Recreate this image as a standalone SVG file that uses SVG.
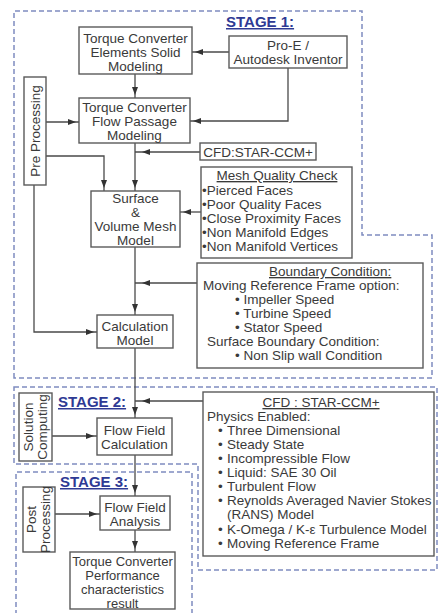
<svg xmlns="http://www.w3.org/2000/svg" width="439" height="613" viewBox="0 0 439 613">
<style>
text{font-family:"Liberation Sans",Arial,sans-serif;font-size:13.5px;fill:#3a3a3a}
.c{text-anchor:middle}
.s{font-size:13px}
.box{fill:#fff;stroke:#5a5a5a;stroke-width:1.4}
.stage{fill:none;stroke:#7f8cc0;stroke-width:1.5;stroke-dasharray:5,3}
.lbl{font-weight:bold;font-size:15px;fill:#2e3a94;text-decoration:underline}
.u{text-decoration:underline}
.ln{fill:none;stroke:#4a4a4a;stroke-width:1.3}
</style>
<defs>
<marker id="a" markerUnits="userSpaceOnUse" markerWidth="14" markerHeight="8" refX="11" refY="3" orient="auto">
<path d="M0,0 L8,3 L0,6 z" fill="#333"/>
</marker>
<marker id="aj" markerUnits="userSpaceOnUse" markerWidth="18" markerHeight="8" refX="15" refY="3" orient="auto">
<path d="M0,0 L8,3 L0,6 z" fill="#333"/>
</marker>
</defs>
<rect width="439" height="613" fill="#fff"/>

<g id="stages">
<path class="stage" d="M14,378 L14,11 L362,11 L362,235 L432,235 L432,378 Z"/>
<path class="stage" d="M14,387 L437,387 L437,570 L198,570 L198,464 L14,464 Z"/>
<path class="stage" d="M16,615 L16,472 L192,472 L192,615"/>
<text class="lbl" x="226" y="27">STAGE 1:</text>
<text class="lbl" x="58" y="407">STAGE 2:</text>
<text class="lbl" x="60" y="487">STAGE 3:</text>
</g>

<g id="connectors">
<path class="ln" d="M229,52 L192,52" marker-end="url(#a)"/>
<path class="ln" d="M135,74 L135,98" marker-end="url(#a)"/>
<path class="ln" d="M288,68 L288,121 L190,121" marker-end="url(#a)"/>
<path class="ln" d="M46,122 L79,122" marker-end="url(#a)"/>
<path class="ln" d="M46,156 L104,156 L104,191" marker-end="url(#a)"/>
<path class="ln" d="M135,143 L135,191" marker-end="url(#a)"/>
<path class="ln" d="M200,152 L135,152" marker-end="url(#aj)"/>
<path class="ln" d="M201,212 L180,212" marker-end="url(#a)"/>
<path class="ln" d="M135,247 L135,315" marker-end="url(#a)"/>
<path class="ln" d="M197,283 L135,283" marker-end="url(#aj)"/>
<path class="ln" d="M34,185 L34,332 L97,332" marker-end="url(#a)"/>
<path class="ln" d="M135,348 L135,418" marker-end="url(#a)"/>
<path class="ln" d="M203,401 L135,401" marker-end="url(#aj)"/>
<path class="ln" d="M52,436 L97,436" marker-end="url(#a)"/>
<path class="ln" d="M135,455 L135,496" marker-end="url(#a)"/>
<path class="ln" d="M55,514 L100,514" marker-end="url(#a)"/>
<path class="ln" d="M135,530 L135,552" marker-end="url(#a)"/>
</g>

<g id="solid-modeling">
<rect class="box" x="79" y="27" width="113" height="47"/>
<text class="c" x="135.5" y="43">Torque Converter</text>
<text class="c" x="135.5" y="57">Elements Solid</text>
<text class="c" x="135.5" y="71">Modeling</text>
</g>

<g id="pro-e">
<rect class="box" x="229" y="36" width="118" height="32"/>
<text class="c" x="288" y="50">Pro-E /</text>
<text class="c" x="288" y="64">Autodesk Inventor</text>
</g>

<g id="flow-passage">
<rect class="box" x="79" y="98" width="111" height="45"/>
<text class="c" x="134.5" y="112">Torque Converter</text>
<text class="c" x="134.5" y="126">Flow Passage</text>
<text class="c" x="134.5" y="140">Modeling</text>
</g>

<g id="pre-processing">
<rect class="box" x="24" y="77" width="22" height="108"/>
<text class="c" transform="translate(40,131) rotate(-90)" x="0" y="0">Pre Processing</text>
</g>

<g id="cfd-small">
<rect class="box" x="200" y="143" width="116" height="17"/>
<text class="c" x="258" y="156.5">CFD:STAR-CCM+</text>
</g>

<g id="mesh-model">
<rect class="box" x="91" y="191" width="89" height="56"/>
<text class="c" x="135.5" y="203">Surface</text>
<text class="c" x="135.5" y="217">&amp;</text>
<text class="c" x="135.5" y="231">Volume Mesh</text>
<text class="c" x="135.5" y="245">Model</text>
</g>

<g id="mesh-quality">
<rect class="box" x="201" y="167" width="151" height="91"/>
<text class="c u" x="277" y="180">Mesh Quality Check</text>
<text x="202" y="195">•Pierced Faces</text>
<text x="202" y="209">•Poor Quality Faces</text>
<text x="202" y="223">•Close Proximity Faces</text>
<text x="202" y="237">•Non Manifold Edges</text>
<text x="202" y="251">•Non Manifold Vertices</text>
</g>

<g id="boundary">
<rect class="box" x="197" y="263" width="226" height="105"/>
<text class="u" x="269" y="276">Boundary Condition:</text>
<text x="203" y="290">Moving Reference Frame option:</text>
<text x="235" y="304">• Impeller Speed</text>
<text x="235" y="318">• Turbine Speed</text>
<text x="235" y="332">• Stator Speed</text>
<text x="207" y="346">Surface Boundary Condition:</text>
<text x="235" y="360">• Non Slip wall Condition</text>
</g>

<g id="calc-model">
<rect class="box" x="97" y="315" width="76" height="33"/>
<text class="c" x="135" y="331">Calculation</text>
<text class="c" x="135" y="344.5">Model</text>
</g>

<g id="solution-computing">
<rect class="box" x="19" y="393" width="33" height="68"/>
<text class="c" transform="translate(33,427) rotate(-90)" x="0" y="0">Solution</text>
<text class="c" transform="translate(47,427) rotate(-90)" x="0" y="0">Computing</text>
</g>

<g id="flow-field-calc">
<rect class="box" x="97" y="418" width="75" height="37"/>
<text class="c" x="134.5" y="435">Flow Field</text>
<text class="c" x="134.5" y="449">Calculation</text>
</g>

<g id="cfd-physics">
<rect class="box" x="203" y="392" width="231" height="164"/>
<text class="c u" x="321" y="407">CFD : STAR-CCM+</text>
<text x="207" y="421">Physics Enabled:</text>
<text x="218" y="435">•</text><text x="227" y="435">Three Dimensional</text>
<text x="218" y="449">•</text><text x="227" y="449">Steady State</text>
<text x="218" y="463">•</text><text x="227" y="463">Incompressible Flow</text>
<text x="218" y="477">•</text><text x="227" y="477">Liquid: SAE 30 Oil</text>
<text x="218" y="491">•</text><text x="227" y="491">Turbulent Flow</text>
<text x="218" y="505">•</text><text x="227" y="505">Reynolds Averaged Navier Stokes</text>
<text x="227" y="519">(RANS) Model</text>
<text x="218" y="534">•</text><text x="227" y="534">K-Omega / K-ε Turbulence Model</text>
<text x="218" y="548">•</text><text x="227" y="548">Moving Reference Frame</text>
</g>

<g id="post-processing">
<rect class="box" x="23" y="487" width="32" height="65"/>
<text class="c" transform="translate(36,519.5) rotate(-90)" x="0" y="0">Post</text>
<text class="c" transform="translate(50,519.5) rotate(-90)" x="0" y="0">Processing</text>
</g>

<g id="flow-field-analysis">
<rect class="box" x="100" y="496" width="70" height="34"/>
<text class="c" x="135" y="512">Flow Field</text>
<text class="c" x="135" y="526">Analysis</text>
</g>

<g id="performance">
<rect class="box" x="70" y="552" width="105" height="57"/>
<text class="c s" x="122.5" y="566">Torque Converter</text>
<text class="c s" x="122.5" y="580">Performance</text>
<text class="c s" x="122.5" y="594">characteristics</text>
<text class="c s" x="122.5" y="607.5">result</text>
</g>
</svg>
